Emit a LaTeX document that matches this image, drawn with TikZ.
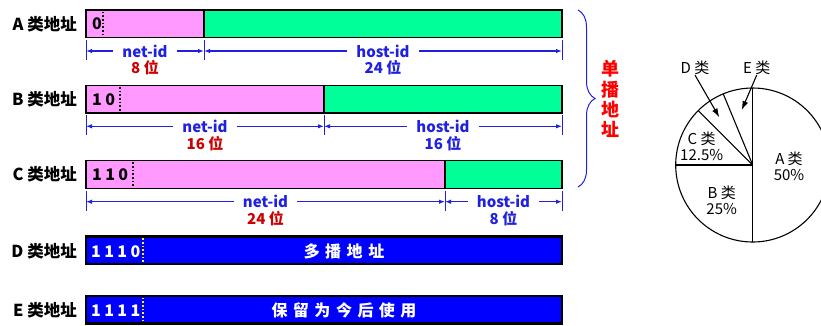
\documentclass[tikz,border=0pt]{standalone}
\usepackage{fontspec}
\setmainfont{Noto Sans CJK SC}
\usetikzlibrary{arrows.meta, positioning, decorations.pathreplacing}
\definecolor{netpink}{HTML}{FF99FF}
\definecolor{hostgreen}{HTML}{00FF99}
\definecolor{castblue}{HTML}{0000FF}
\definecolor{dimblue}{HTML}{2020E0}
\definecolor{countred}{HTML}{CC0000}

\begin{document}
\begin{tikzpicture}[x=1pt, y=-1pt]
\tikzstyle{classlabel} = [anchor=east, inner sep=0pt, font=\fontsize{16.5}{16.5}\selectfont\bfseries]
\tikzstyle{bits} = [anchor=west, inner sep=0pt, font=\fontsize{16}{16}\selectfont\bfseries, execute at begin node={\spaceskip=3.4pt\relax}]
\tikzstyle{field} = [draw=black, line width=1.5pt]
\tikzstyle{dim} = [draw=dimblue, line width=1.4pt, -{Latex[length=6pt,width=4.5pt]}]
\tikzstyle{tick} = [draw=dimblue, line width=1pt]
\tikzstyle{idtext} = [inner xsep=9pt, inner ysep=0pt, text=dimblue, font=\fontsize{15}{15}\selectfont\bfseries]
\tikzstyle{bitcount} = [inner sep=0pt, font=\fontsize{15}{15}\selectfont\bfseries]
\tikzstyle{usetext} = [inner sep=0pt, text=white, font=\fontsize{16}{16}\selectfont\bfseries, execute at begin node={\spaceskip=5.5pt\relax}]
\tikzstyle{pielabel} = [align=center, inner sep=0pt, font=\fontsize{15}{16}\selectfont]

\clip (0,0) rectangle (821,325);

% Unicast classes
\foreach \cls/\y/\split/\dotx/\bitstr/\netb/\hostb in {A/10/204/102.7/0/8/24, B/85.3/324/120/1 0/16/16, C/160.7/445/133/1 1 0/24/8} {
    \node (label\cls) [classlabel] at (77,\y+14) {\cls\ 类地址};
    \filldraw[fill=netpink, field] (86,\y) rectangle (\split,\y+27.7);
    \filldraw[fill=hostgreen, field] (\split,\y) rectangle (562,\y+27.7);
    \draw[dotted, line width=1.7pt] (\dotx,\y+1.5) -- (\dotx,\y+26.2);
    \node (bits\cls) [bits] at (92,\y+14) {\bitstr};

    \coordinate (l\cls) at (86,\y+41);
    \coordinate (m\cls) at (\split,\y+41);
    \coordinate (r\cls) at (562,\y+41);
    \foreach \x in {86, \split, 562}
        \draw[tick] (\x,\y+30) -- (\x,\y+50);

    \node (net\cls) [idtext] at ({(86+\split)/2},\y+41) {net-id};
    \node (netbits\cls) [bitcount, text=countred, below=3pt of net\cls] {\netb\ 位};
    \node (host\cls) [idtext] at ({(\split+562)/2},\y+41) {host-id};
    \node (hostbits\cls) [bitcount, text=dimblue, below=3pt of host\cls] {\hostb\ 位};

    \draw[dim] (net\cls) -- (l\cls);
    \draw[dim] (net\cls) -- (m\cls);
    \draw[dim] (host\cls) -- (m\cls);
    \draw[dim] (host\cls) -- (r\cls);
}

% Class D and E
\foreach \cls/\y/\bitstr/\usage in {D/236.7/1 1 1 0/多 播 地 址, E/296/1 1 1 1/保 留 为 今 后 使 用} {
    \node (label\cls) [classlabel] at (77,\y+14.5) {\cls\ 类地址};
    \filldraw[fill=castblue, draw=black, line width=2.5pt] (86,\y) rectangle (562,\y+27.5);
    \draw[dotted, yellow, line width=1.7pt] (143,\y+1.5) -- (143,\y+26);
    \node (bits\cls) [bits, text=white] at (91,\y+14.5) {\bitstr};
    \node (use\cls) [usetext] at (344,\y+14.5) {\usage};
}

% Brace
\draw[dimblue, line width=1pt, decorate, decoration={brace, amplitude=17pt}] (578,10) -- (578,187);
\node (unicast) [align=center, inner sep=0pt, text=red, font=\fontsize{18}{20.2}\selectfont\bfseries] at (610.7,99) {单\\播\\地\\址};

% Pie chart
\begin{scope}[shift={(752.7,165)}, y=1pt]
    \draw[line width=1.1pt] (0,0) circle (77);
    \foreach \ang in {90, 112.5, 135, 180, 270}
        \draw[line width=1.1pt] (0,0) -- (\ang:77);
    \node (pieA) [pielabel] at (36.3,-1.7) {A 类\\50\%};
    \node (pieB) [pielabel] at (-31,-35) {B 类\\25\%};
    \node (pieC) [pielabel] at (-51,18.3) {C 类\\12.5\%};
    \node (pieD) [pielabel] at (-57.7,97) {D 类};
    \node (pieE) [pielabel] at (4,97) {E 类};
    \coordinate (sliceD) at (-33.4,47.7);
    \coordinate (sliceE) at (-11,55);
    \draw[line width=1.1pt, -{Latex[length=9pt,width=6pt]}] (pieD.south) -- (sliceD);
    \draw[line width=1.1pt, -{Latex[length=9pt,width=6pt]}] (pieE.south) -- (sliceE);
\end{scope}

\end{tikzpicture}
\end{document}
